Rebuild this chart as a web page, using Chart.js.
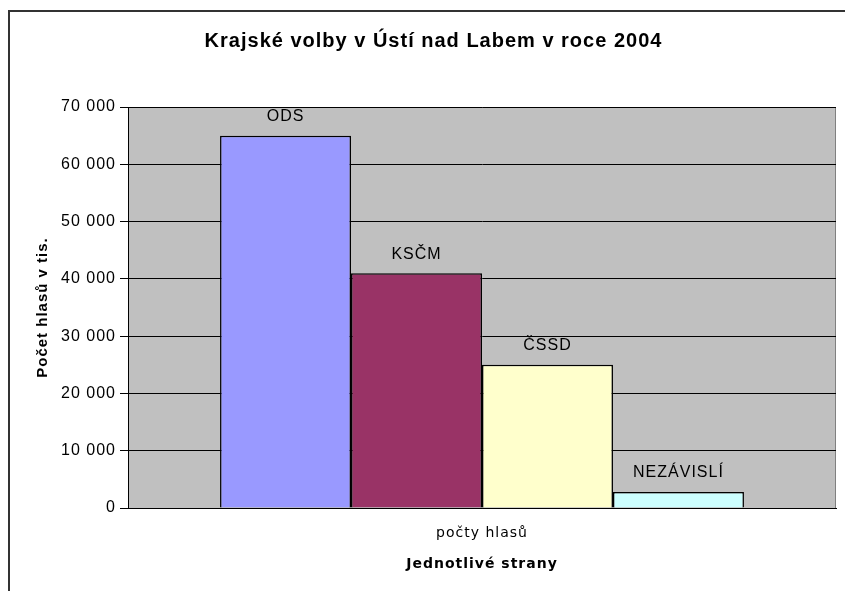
<!DOCTYPE html>
<html>
<head>
<meta charset="utf-8">
<script src="https://cdn.jsdelivr.net/npm/chart.js@4"></script>
<style>
  html, body { margin: 0; padding: 0; background: #fff; }
  #wrap { width: 845px; height: 591px; position: relative; }
</style>
</head>
<body>
<div id="wrap"><canvas id="chart"></canvas></div>
<script>
const categories = ['počty hlasů'];
const parties = ['ODS', 'KSČM', 'ČSSD', 'NEZÁVISLÍ'];
const votes = [65000, 41000, 25000, 2800];
const colors = ['#9999ff', '#993366', '#ffffcc', '#ccffff'];
const yTicks = [0, 10000, 20000, 30000, 40000, 50000, 60000, 70000];

const fmt = v => v.toString().replace(/\B(?=(\d{3})+(?!\d))/g, ' ');

// the old export has loose letter spacing everywhere
const spacing = {
    id: 'spacing',
    beforeUpdate(chart) { chart.ctx.letterSpacing = '1px'; },
    beforeLayout(chart) { chart.ctx.letterSpacing = '1px'; },
    beforeDraw(chart) { chart.ctx.letterSpacing = '1px'; }
};

// gray plot area + outer frame, Excel style
const plotBg = {
    id: 'plotBg',
    beforeDraw(chart) {
        const { ctx, chartArea: a } = chart;
        ctx.save();
        ctx.strokeStyle = '#333';
        ctx.lineWidth = 2;
        ctx.strokeRect(9, 11, 900, 700);
        ctx.fillStyle = '#c0c0c0';
        ctx.fillRect(a.left, a.top, a.right - a.left, a.bottom - a.top);
        ctx.strokeStyle = '#808080';
        ctx.lineWidth = 1;
        ctx.strokeRect(a.left + 0.5, a.top + 0.5, a.right - a.left - 1, a.bottom - a.top);
        ctx.restore();
    }
};

// series names above each bar
const barNames = {
    id: 'barNames',
    afterDatasetsDraw(chart) {
        const { ctx } = chart;
        ctx.save();
        ctx.font = '16px "Liberation Sans", Arial, sans-serif';
        ctx.fillStyle = '#000';
        ctx.textAlign = 'center';
        ctx.textBaseline = 'middle';
        chart.data.datasets.forEach((ds, i) => {
            const bar = chart.getDatasetMeta(i).data[0];
            ctx.fillText(ds.label, bar.x, bar.y - 19);
        });
        ctx.restore();
    }
};

new Chart(document.getElementById('chart'), {
    type: 'bar',
    data: {
        labels: categories,
        datasets: parties.map((p, i) => ({
            label: p,
            data: [votes[i]],
            backgroundColor: colors[i],
            borderColor: '#000',
            borderWidth: 1.5,
            barPercentage: 1,
            categoryPercentage: 0.74
        }))
    },
    options: {
        responsive: true,
        maintainAspectRatio: false,
        animation: false,
        layout: { padding: { left: 31, right: 9, top: 0, bottom: 0 } },
        plugins: {
            legend: { display: false },
            tooltip: { enabled: false },
            title: {
                display: true,
                text: 'Krajské volby v Ústí nad Labem v roce 2004',
                color: '#000',
                font: { family: '"Liberation Sans", Arial, sans-serif', size: 20, weight: 'bold' },
                padding: { top: 29, bottom: 54 }
            }
        },
        scales: {
            x: {
                grid: { display: false, drawTicks: false },
                border: { display: true, color: '#000', width: 1 },
                ticks: { color: '#000', padding: 17, font: { family: '"DejaVu Sans", Verdana, sans-serif', size: 14 } },
                title: {
                    display: true, text: 'Jednotlivé strany', color: '#000',
                    font: { family: '"DejaVu Sans", Verdana, sans-serif', size: 14, weight: 'bold' },
                    padding: { top: 0, bottom: 18 }
                },
                afterFit(s) { s.height = 83; }
            },
            y: {
                min: 0, max: 70000,
                afterBuildTicks(s) { s.ticks = yTicks.map(v => ({ value: v })); },
                grid: { color: '#000', lineWidth: 1, tickLength: 8, drawTicks: true },
                border: { display: true, color: '#000', width: 1 },
                ticks: {
                    color: '#000', padding: 4,
                    font: { family: '"Liberation Sans", Arial, sans-serif', size: 16 },
                    callback: v => fmt(v)
                },
                title: {
                    display: true, text: 'Počet hlasů v tis.', color: '#000',
                    font: { family: '"Liberation Sans", Arial, sans-serif', size: 15, weight: 'bold' },
                    padding: { top: 3, bottom: 0 }
                },
                afterFit(s) { s.width = 97; }
            }
        }
    },
    plugins: [spacing, plotBg, barNames]
});
</script>
</body>
</html>
